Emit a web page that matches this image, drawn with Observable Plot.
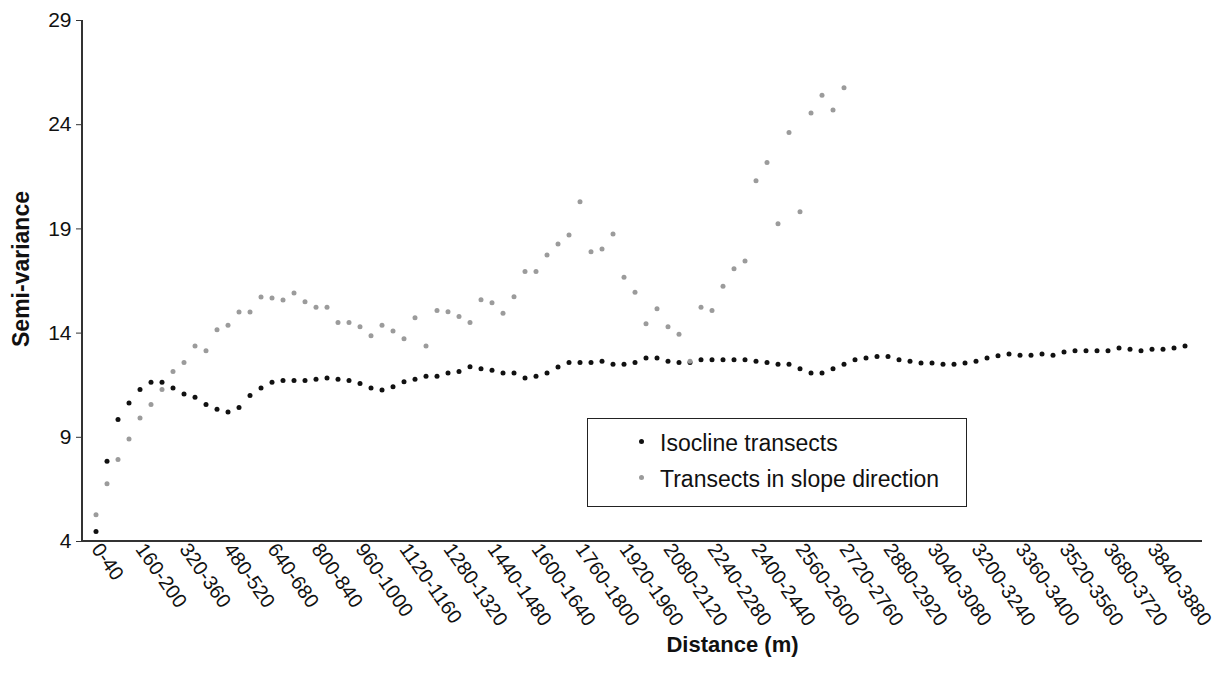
<!DOCTYPE html>
<html>
<head>
<meta charset="utf-8">
<script src="https://cdn.jsdelivr.net/npm/d3@7"></script>
<script src="https://cdn.jsdelivr.net/npm/@observablehq/plot@0.6"></script>
<style>
  body { margin: 0; background: #fff; font-family: "Liberation Sans", Arial, sans-serif; }
  #wrap { position: relative; width: 1221px; height: 675px; overflow: hidden; }
  #legend { position: absolute; left: 587px; top: 418px; width: 380px; height: 89px; border: 1.5px solid #222; box-sizing: border-box; background: #fff; font-size: 23px; color: #111; }
  .item { position: absolute; left: 51px; height: 24px; line-height: 24px; white-space: nowrap; }
  .sw { display: inline-block; width: 5px; height: 5px; border-radius: 50%; vertical-align: middle; margin-right: 16px; position: relative; top: -3px; }
</style>
</head>
<body>
<div id="wrap">
  <div id="chart"></div>
  <div id="legend"></div>
</div>
<script>
// Distance classes (40 m bins)
const categories = d3.range(100).map(i => `${i * 40}-${i * 40 + 40}`);
// Tick labels shown on the x axis (every 4th class)
const tickLabels = ["0-40","160-200","320-360","480-520","640-680","800-840","960-1000","1120-1160","1280-1320","1440-1480","1600-1640","1760-1800","1920-1960","2080-2120","2240-2280","2400-2440","2560-2600","2720-2760","2880-2920","3040-3080","3200-3240","3360-3400","3520-3560","3680-3720","3840-3880"];
const yTicks = [4, 9, 14, 19, 24, 29];

const seriesNames = ["Isocline transects", "Transects in slope direction"];
const seriesColors = ["#111111", "#9b9b9b"];

// Semi-variance, isocline transects (100 classes)
const isocline = [
  4.48, 7.85, 9.85, 10.65, 11.29, 11.64, 11.64, 11.36, 11.08, 10.92,
  10.57, 10.35, 10.22, 10.43, 11.00, 11.36, 11.64, 11.72, 11.72, 11.72,
  11.79, 11.85, 11.79, 11.72, 11.58, 11.36, 11.27, 11.42, 11.66, 11.79,
  11.93, 11.93, 12.08, 12.16, 12.38, 12.29, 12.22, 12.08, 12.08, 11.85,
  11.93, 12.08, 12.37, 12.59, 12.59, 12.59, 12.65, 12.51, 12.51, 12.59,
  12.80, 12.80, 12.65, 12.59, 12.59, 12.72, 12.72, 12.72, 12.72, 12.72,
  12.65, 12.59, 12.51, 12.51, 12.29, 12.08, 12.08, 12.29, 12.51, 12.72,
  12.80, 12.88, 12.88, 12.72, 12.65, 12.57, 12.57, 12.51, 12.51, 12.57,
  12.65, 12.80, 12.91, 13.00, 12.94, 12.94, 13.00, 12.94, 13.09, 13.15,
  13.15, 13.15, 13.15, 13.29, 13.23, 13.15, 13.23, 13.23, 13.29, 13.38
];
// Semi-variance, transects in slope direction (first 69 classes)
const slope = [
  5.28, 6.77, 7.93, 8.92, 9.93, 10.57, 11.29, 12.16, 12.59, 13.38,
  13.15, 14.16, 14.38, 15.01, 15.01, 15.73, 15.68, 15.59, 15.92, 15.50,
  15.24, 15.24, 14.51, 14.51, 14.30, 13.87, 14.38, 14.10, 13.73, 14.74,
  13.38, 15.09, 15.02, 14.80, 14.51, 15.60, 15.46, 14.95, 15.75, 16.95,
  16.95, 17.75, 18.28, 18.71, 20.30, 17.90, 18.04, 18.75, 16.68, 15.96,
  14.45, 15.17, 14.30, 13.95, 12.65, 15.24, 15.09, 16.25, 17.09, 17.46,
  21.31, 22.19, 19.25, 23.62, 19.82, 24.56, 25.41, 24.70, 25.77
];

const isoData = isocline.map((v, i) => ({cat: categories[i], v}));
const slopeData = slope.map((v, i) => ({cat: categories[i], v}));

const axisLines = (index, scales, values, dims) => {
  const g = d3.create("svg:g");
  const x0 = dims.marginLeft, x1 = dims.width - dims.marginRight + 4;
  const y0 = dims.marginTop, y1 = dims.height - dims.marginBottom;
  g.append("path").attr("d", `M${x0},${y0}V${y1}H${x1}`)
    .attr("fill", "none").attr("stroke", "#333").attr("stroke-width", 2);
  return g.node();
};

const plot = Plot.plot({
  width: 1221,
  height: 675,
  marginLeft: 82,
  marginRight: 23,
  marginTop: 20,
  marginBottom: 134,
  style: { fontFamily: "Liberation Sans, Arial, sans-serif", fontSize: "20px", color: "#111", background: "white" },
  x: { type: "band", domain: categories, padding: 0 },
  y: { domain: [4, 29] },
  marks: [
    Plot.axisY({ ticks: yTicks, tickSize: 6, tickPadding: 5, label: null, fontSize: 21, stroke: "#333" }),
    Plot.axisX({ ticks: tickLabels, tickSize: 0, tickPadding: 4, tickRotate: 55, textAnchor: "start", label: null, fontSize: 20 }),
    axisLines,
    Plot.dot(isoData, { x: "cat", y: "v", r: 2.5, fill: seriesColors[0], stroke: null }),
    Plot.dot(slopeData, { x: "cat", y: "v", r: 2.5, fill: seriesColors[1], stroke: null }),
    Plot.text(["Semi-variance"], { frameAnchor: "left", textAnchor: "middle", text: d => d, rotate: -90, dx: -61, dy: -12, fontWeight: "bold", fontSize: 23 }),
    Plot.text(["Distance (m)"], { frameAnchor: "bottom", textAnchor: "middle", text: d => d, dx: 92, dy: 110, fontWeight: "bold", fontSize: 22 })
  ]
});
document.getElementById("chart").appendChild(plot);

const legend = d3.select("#legend");
seriesNames.forEach((name, i) => {
  const item = legend.append("div").attr("class", "item").style("top", (12 + i * 36) + "px");
  item.append("span").attr("class", "sw").style("background", seriesColors[i]);
  item.append("span").text(name);
});
</script>
</body>
</html>
